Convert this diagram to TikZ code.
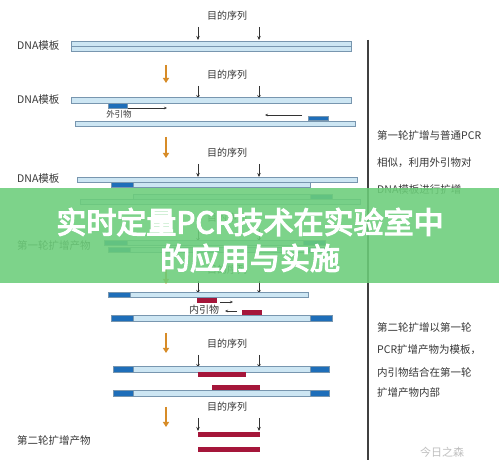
\documentclass[tikz,border=0pt]{standalone}
\usepackage{fontspec}
\setmainfont{Noto Sans CJK SC}
\newfontfamily\titlefont[FakeBold=4]{Noto Sans CJK SC}
\usetikzlibrary{arrows.meta}

\definecolor{strandfill}{RGB}{205,230,243}
\definecolor{strandline}{RGB}{120,150,175}
\definecolor{outerblue}{RGB}{30,110,185}
\definecolor{innerred}{RGB}{165,22,58}
\definecolor{steporange}{RGB}{215,140,40}
\definecolor{textgray}{RGB}{55,55,55}
\definecolor{bannergreen}{RGB}{108,206,122}

\begin{document}
\begin{tikzpicture}[x=1pt,y=-1pt,
    strand/.style={draw=strandline, fill=strandfill, line width=0.6pt},
    outer/.style={draw=strandline, fill=outerblue, line width=0.6pt},
    inner/.style={fill=innerred},
    seqlbl/.style={font=\fontsize{10}{12}\selectfont, text=textgray, inner sep=0pt},
    sidelbl/.style={font=\fontsize{10.5}{12}\selectfont, text=textgray, inner sep=0pt, anchor=west},
    tgtarrow/.style={-{Stealth[length=4pt,width=3.5pt]}, line width=0.7pt, black!80},
    primarrow/.style={-{Stealth[length=3pt,width=2.5pt]}, line width=0.5pt, black!80},
    steparrow/.style={-{Triangle[length=5pt,width=6pt]}, line width=1.6pt, steporange}]
    \useasboundingbox (0,0) rectangle (499,473);
    \fill[white] (0,0) rectangle (499,473);

    % Target sequence labels and arrows
    \foreach \i/\y in {1/16, 2/75, 3/153, 4/218, 5/270, 6/344, 7/407} {
        \node[seqlbl] (seq\i) at (227,\y) {目的序列};
        \draw[tgtarrow] (198,\y+11) -- ++(0,13);
        \draw[tgtarrow] (259,\y+11) -- ++(0,13);
    }

    % Step arrows
    \foreach \a/\b in {65/83, 137/158, 268/284, 333/353, 407/427}
        \draw[steparrow] (166,\a) -- (166,\b);

    % Left labels
    \node[sidelbl] (tpl1) at (17,46) {DNA模板};
    \node[sidelbl] (tpl2) at (17,100) {DNA模板};
    \node[sidelbl] (tpl3) at (17,179) {DNA模板};
    \node[sidelbl] (prod1) at (17,246) {第一轮扩增产物};
    \node[sidelbl] (prod2) at (17,441) {第二轮扩增产物};

    % Step 1: template
    \draw[strand] (71,41) rectangle (351,46);
    \draw[strand] (71,46) rectangle (351,51);

    % Step 2: outer primers
    \draw[strand] (71,97) rectangle (351,103);
    \draw[outer] (108,103.5) rectangle (127,108);
    \draw[primarrow] (128,108) -- (167,108);
    \node[seqlbl, font=\fontsize{8.5}{10}\selectfont] (outp) at (119,114) {外引物};
    \draw[primarrow] (302,115) -- (265,115);
    \draw[outer] (308,116) rectangle (328,120.5);
    \draw[strand] (75,121) rectangle (355,126);

    % Step 3: first round extension
    \draw[strand] (77,177) rectangle (357,182);
    \draw[strand] (133,182) rectangle (310,187);
    \draw[outer] (111,182) rectangle (133,187);
    \draw[strand] (133,194) rectangle (310,199);
    \draw[outer] (310,194) rectangle (332,199);
    \draw[strand] (80,199) rectangle (360,204);

    % First round products
    \draw[strand] (104,240.5) rectangle (325,245.5);
    \draw[outer] (104,240.5) rectangle (127,245.5);
    \draw[outer] (303,240.5) rectangle (325,245.5);
    \draw[strand] (108,247) rectangle (330,252);
    \draw[outer] (108,247) rectangle (130,252);
    \draw[outer] (308,247) rectangle (330,252);

    % Step 4: inner primers
    \draw[strand] (108,292) rectangle (308,297.5);
    \draw[outer] (108,292) rectangle (130,297.5);
    \fill[inner] (197,298) rectangle (217,303);
    \draw[primarrow] (220,302) -- (233,302);
    \node[seqlbl] (innp) at (204,310) {内引物};
    \draw[primarrow] (237,311) -- (225,311);
    \fill[inner] (242,310) rectangle (262,315);
    \draw[strand] (111,315.5) rectangle (332,321);
    \draw[outer] (111,315.5) rectangle (133,321);
    \draw[outer] (310,315.5) rectangle (332,321);

    % Step 5: second round extension
    \draw[strand] (113,366) rectangle (329,372);
    \draw[outer] (113,366) rectangle (133,372);
    \draw[outer] (310,366) rectangle (329,372);
    \fill[inner] (198,372) rectangle (246,377);
    \fill[inner] (212,385) rectangle (260,390);
    \draw[strand] (113,390) rectangle (329,396);
    \draw[outer] (113,390) rectangle (133,396);
    \draw[outer] (310,390) rectangle (329,396);

    % Second round products
    \fill[inner] (198,432) rectangle (260,437);
    \fill[inner] (198,447) rectangle (260,452);

    % Divider and notes
    \draw[line width=1.2pt, black!75] (368,40) -- (368,460);
    \node[sidelbl] (note1) at (377,136) {第一轮扩增与普通PCR};
    \node[sidelbl] (note2) at (377,163) {相似，利用外引物对};
    \node[sidelbl] (note3) at (377,190) {DNA模板进行扩增};
    \node[sidelbl] (note4) at (377,328) {第二轮扩增以第一轮};
    \node[sidelbl] (note5) at (377,350) {PCR扩增产物为模板，};
    \node[sidelbl] (note6) at (377,372) {内引物结合在第一轮};
    \node[sidelbl] (note7) at (377,393) {扩增产物内部};
    \node[sidelbl, text=black!25, font=\fontsize{11}{12}\selectfont] (mark) at (420,452) {今日之森};

    % Title banner
    \fill[bannergreen, fill opacity=0.88] (0,188) rectangle (499,283);
    \node[text=white, font=\titlefont\fontsize{30}{34}\selectfont, inner sep=0pt] (title1) at (250,222) {实时定量PCR技术在实验室中};
    \node[text=white, font=\titlefont\fontsize{30}{34}\selectfont, inner sep=0pt] (title2) at (250,258) {的应用与实施};
\end{tikzpicture}
\end{document}
